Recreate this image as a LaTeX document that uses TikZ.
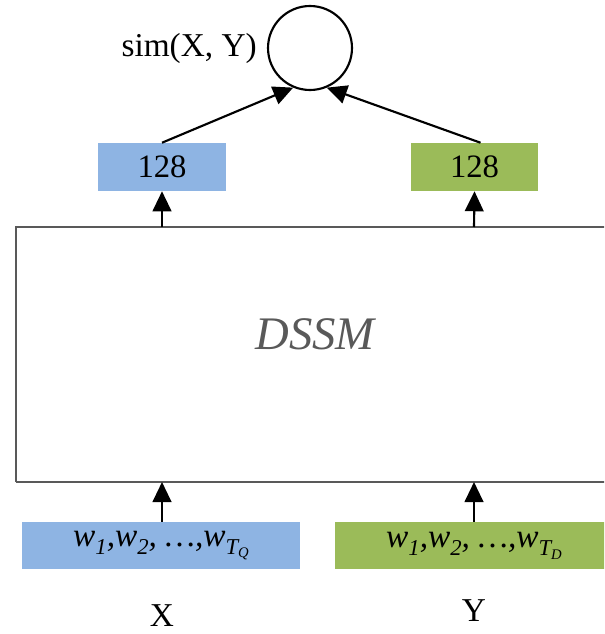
\documentclass[tikz,border=0pt]{standalone}
\usepackage{fontspec}
\setmainfont{Liberation Serif}
\usetikzlibrary{arrows.meta}
\definecolor{qblue}{HTML}{8EB4E3}
\definecolor{dgreen}{HTML}{9BBB59}
\definecolor{boxgray}{HTML}{595959}
\newcommand{\sbx}[1]{\raisebox{-0.25em}{\fontsize{17}{18}\selectfont #1}}
\newcommand{\ssbx}[1]{\raisebox{-0.15em}{\fontsize{11}{12}\selectfont #1}}
\tikzset{
  vecbox/.style={minimum width=96pt, minimum height=36pt, inner sep=0pt, font=\fontsize{24.5}{26}\selectfont},
  inbox/.style={minimum height=35.25pt, inner sep=0pt, font=\fontsize{25}{27}\selectfont\itshape},
  flow/.style={line width=1.6pt, -{Triangle[length=15pt,width=14pt]}},
  lbl/.style={font=\fontsize{25}{27}\selectfont, inner sep=0pt},
}
\begin{document}
\begin{tikzpicture}[x=0.75pt,y=-0.75pt]
\useasboundingbox (0,0) rectangle (604,634);
\clip (0,0) rectangle (604,634);
% big box
\draw[boxgray, line width=1.6pt] (16,482) -- (16,227) -- (640,227);
\draw[boxgray, line width=1.6pt] (16,482) -- (640,482);
\node[inner sep=0pt] (dssm) at (16,227) {};
\coordinate (dssmtopL) at (162,227);
\coordinate (dssmtopR) at (474,227);
\coordinate (dssmbotL) at (162,482);
\coordinate (dssmbotR) at (474,482);
\node[font=\fontsize{35}{37}\selectfont\itshape, text=boxgray] (dssmlabel) at (315,334) {DSSM};
% similarity
\node[circle, draw, line width=1.6pt, minimum size=63pt, inner sep=0pt] (sim) at (310,48) {};
\node[lbl, anchor=east] (simlbl) at (257,48) {sim(X, Y)};
% top vectors
\node[vecbox, fill=qblue, minimum width=96pt] (q128) at (162,167) {128};
\node[vecbox, fill=dgreen, minimum width=95.25pt] (d128) at (474.5,167) {128};
\draw[flow] (q128.north) -- (sim.-113);
\draw[flow] ([xshift=4.5pt]d128.north) -- (sim.-67);
\draw[flow] (dssmtopL) -- (q128.south);
\draw[flow] (dssmtopR) -- (d128.south);
% inputs
\node[inbox, fill=qblue, minimum width=208.5pt] (qin) at (161,545.5) {w\sbx{1},w\sbx{2}, \ldots,w\sbx{T\ssbx{Q}}};
\node[inbox, fill=dgreen, minimum width=220pt] (din) at (482,545.5) {};
\node[inbox] (dintext) at (474,545.5) {w\sbx{1},w\sbx{2}, \ldots,w\sbx{T\ssbx{D}}};
\draw[flow] (qin.north -| dssmbotL) -- (dssmbotL);
\draw[flow] (din.north -| dssmbotR) -- (dssmbotR);
% labels
\node[lbl] (xlbl) at (162,616) {X};
\node[lbl] (ylbl) at (474,611) {Y};
\end{tikzpicture}
\end{document}
